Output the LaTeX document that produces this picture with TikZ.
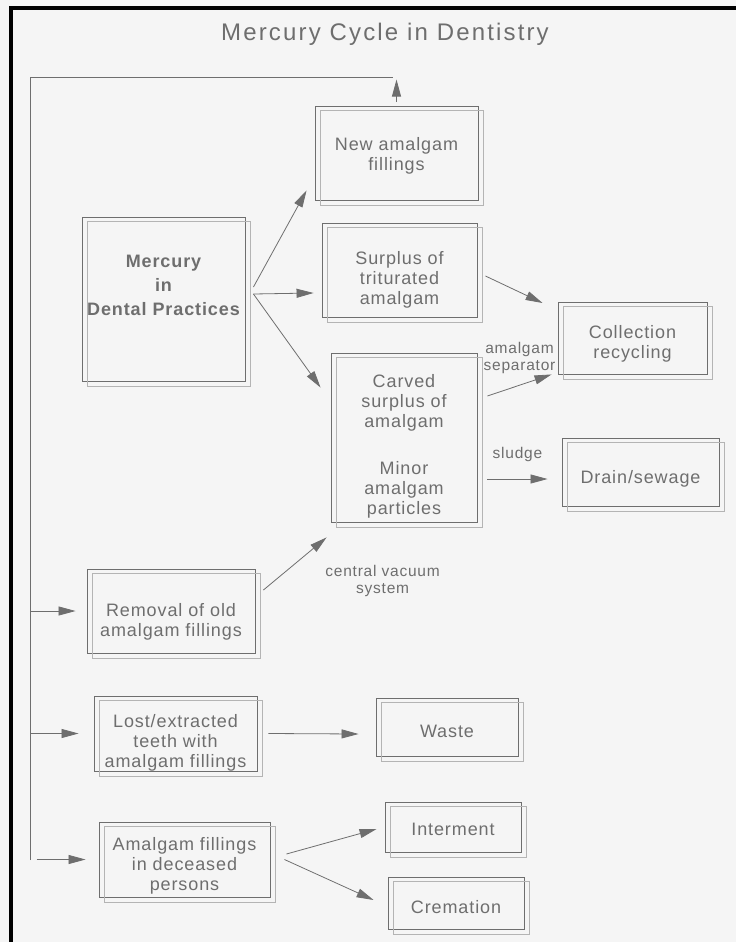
\documentclass[tikz,border=0pt]{standalone}
\usepackage{fontspec}
\setmainfont{Liberation Sans}
\newfontfamily\boxfont[LetterSpace=5]{Liberation Sans}
\newfontfamily\titlefont[LetterSpace=9]{Liberation Sans}
\usetikzlibrary{arrows.meta, positioning}
\definecolor{paper}{HTML}{F5F5F5}
\definecolor{boxdark}{HTML}{6E6E6E}
\definecolor{boxlite}{HTML}{B4B4B4}
\definecolor{inkgray}{HTML}{6E6E6E}
% strut on the first line: moves the text of a box down by #1
\newcommand{\dn}[1]{\rule{0pt}{\dimexpr 13pt+#1*2\relax}}
\tikzset{box node/.style={draw=boxdark, line width=0.9pt, align=center, text=inkgray, inner sep=0pt,
    font=\boxfont\fontsize{18}{20}\selectfont},
  back box/.style={draw=boxlite, line width=1pt},
  flow/.style={color=inkgray, line width=0.8pt, -{Triangle[length=17pt,width=9pt]}},
  note/.style={text=inkgray, align=center, inner sep=0pt, font=\boxfont\fontsize{15.5}{17}\selectfont},}

\begin{document}
\begin{tikzpicture}[x=1pt, y=-1pt]
       \fill[paper] (0,0) rectangle (736,942);
       \useasboundingbox (0,0) rectangle (736,942);
       \fill[black] (9,6) rectangle (13,942);
       \fill[black] (9,6) rectangle (736,10);

       \node[text=inkgray, font=\titlefont\fontsize{24}{28}\selectfont] (title) at (385,34) {Mercury Cycle in Dentistry};

       \node[box node, minimum width=163pt, minimum height=94pt] (1) at (396.5,153) {\dn{3pt}New amalgam\\fillings};
       \node[box node, minimum width=163pt, minimum height=164pt, font=\boxfont\bfseries\fontsize{18}{24}\selectfont] (2) at (163.5,299) {Mercury\\in\\Dental Practices\\[4pt]~};
       \node[box node, minimum width=155pt, minimum height=94pt] (3) at (399.5,270) {\dn{10pt}Surplus of\\triturated\\amalgam};
       \node[box node, minimum width=146pt, minimum height=169pt] (4) at (404,437.5) {\dn{9pt}Carved\\surplus of\\amalgam\\[27pt]Minor\\amalgam\\particles};
       \node[box node, minimum width=149pt, minimum height=72pt] (5) at (632.5,338) {\dn{6pt}Collection\\recycling};
       \node[box node, minimum width=157pt, minimum height=68pt] (6) at (640.5,472) {\dn{7pt}Drain/sewage};
       \node[box node, minimum width=168pt, minimum height=84pt] (7) at (171,611) {\dn{11pt}Removal of old\\amalgam fillings};
       \node[box node, minimum width=163pt, minimum height=75pt] (8) at (175.5,733.5) {\dn{9pt}Lost/extracted\\teeth with\\amalgam fillings};
       \node[box node, minimum width=142pt, minimum height=58pt] (9) at (447,727) {\dn{4pt}Waste};
       \node[box node, minimum width=171pt, minimum height=75pt] (10) at (184.5,859.5) {\dn{6pt}Amalgam fillings\\in deceased\\persons};
       \node[box node, minimum width=136pt, minimum height=50pt] (11) at (453,827) {\dn{2pt}Interment};
       \node[box node, minimum width=136pt, minimum height=52pt] (12) at (456,903) {\dn{4pt}Cremation};

       \foreach \n in {1,...,12}
         \draw[back box] ([xshift=5.5pt,yshift=-5pt]\n.south west) rectangle ([xshift=5.5pt,yshift=-5pt]\n.north east);

       \coordinate (fb) at (30,77);
       \coordinate (fb end) at (30,860);
       \coordinate (fb turn) at (393,77);
       \draw[draw=inkgray, line width=0.8pt] (fb end) -- (fb) -- (fb turn);
       \draw[flow] ([yshift=4pt]1.north) -- ([yshift=26pt]1.north);

       \path[flow]
       (fb |- 7.west) edge ([xshift=-11pt]7.west)
       (fb |- 8.west) edge ([xshift=-15pt]8.west)
       ([xshift=-62pt]10.west) edge ([xshift=-13pt]10.west)
       ([xshift=8pt,yshift=12pt]2.east) edge ([xshift=-8pt,yshift=10pt]1.south west)
       ([xshift=8pt,yshift=5pt]2.east) edge ([xshift=-8pt,yshift=-23pt]3.west)
       ([xshift=8pt,yshift=5pt]2.east) edge ([xshift=-10pt,yshift=-35pt]4.north west)
       ([xshift=8pt,yshift=-6pt]3.east) edge ([xshift=-15pt,yshift=35pt]5.west)
       ([xshift=10pt,yshift=41.5pt]4.east) edge node[note, above=11pt] {amalgam\\separator} ([xshift=-6pt]5.south west)
       ([xshift=10pt,yshift=-41.5pt]4.east) edge node[note, above=17pt] {sludge} ([xshift=-14pt,yshift=-7pt]6.west)
       ([xshift=8pt,yshift=21pt]7.east) edge node[note, right=30pt, yshift=-17pt] {central vacuum\\system} ([xshift=-4pt,yshift=-15pt]4.south west)
       ([xshift=11pt]8.east) edge ([xshift=-17pt,yshift=-7pt]9.west)
       ([xshift=16pt,yshift=5.5pt]10.east) edge ([xshift=-8pt,yshift=-2pt]11.west)
       ([xshift=14pt]10.east) edge ([xshift=-14pt,yshift=3pt]12.west);
\end{tikzpicture}
\end{document}
